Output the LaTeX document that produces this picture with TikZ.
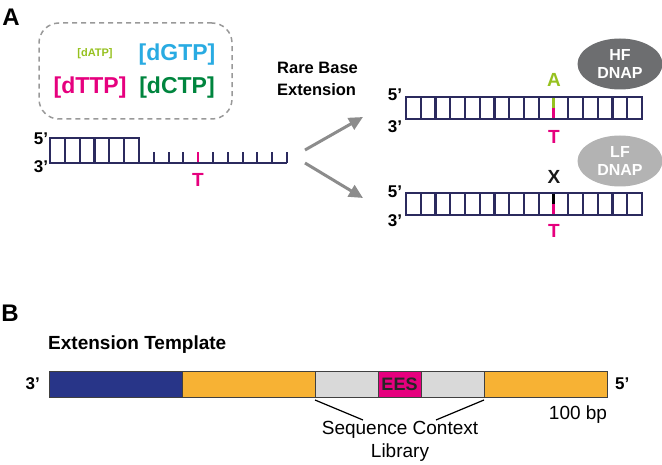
\documentclass[tikz,border=0pt]{standalone}
\usepackage{fontspec}
\setmainfont{Liberation Sans}
\usetikzlibrary{positioning,shapes.geometric,arrows.meta}

\definecolor{navy}{RGB}{43,42,94}
\definecolor{tmag}{RGB}{230,0,126}
\definecolor{alime}{RGB}{150,193,31}
\definecolor{gsky}{RGB}{41,171,226}
\definecolor{cgreen}{RGB}{0,133,62}
\definecolor{hfgray}{RGB}{109,110,112}
\definecolor{lfgray}{RGB}{179,179,179}
\definecolor{arrgray}{RGB}{140,140,140}
\definecolor{barblue}{RGB}{40,53,136}
\definecolor{barorange}{RGB}{247,178,52}
\definecolor{barlight}{RGB}{217,217,217}

\newcommand{\fsz}[2]{\fontsize{#1}{#2}\selectfont}

\tikzset{
  lbl/.style={inner sep=0pt, font=\bfseries\fsz{17}{17}},
  base/.style={inner sep=0pt, font=\bfseries\fsz{19}{19}},
  dntp/.style={inner sep=0pt, font=\bfseries\fsz{23}{23}},
  dnap/.style={ellipse, minimum width=85pt, minimum height=51pt, inner sep=0pt,
    text=white, align=center, font=\bfseries\fsz{16}{18}},
  strand/.style={navy, line width=2.1pt},
  seg/.style={draw=black!75, line width=0.8pt, minimum height=26pt, inner sep=0pt, outer sep=0pt},
  fork/.style={arrgray, line width=3pt, -{Triangle[length=14pt,width=13pt]}},
}

\begin{document}
\begin{tikzpicture}[x=1pt,y=-1pt]
\useasboundingbox (0,0) rectangle (662,465);

\node[inner sep=0pt, font=\bfseries\fsz{24}{24}] (panA) at (11,17) {A};
\node[inner sep=0pt, font=\bfseries\fsz{24}{24}] (panB) at (10,313) {B};

% dNTP pool
\node[draw=black!40, line width=1.5pt, dash pattern=on 5pt off 4pt, rounded corners=20pt,
  minimum width=193pt, minimum height=96pt] (pool) at (135.5,71) {};
\node[inner sep=0pt, font=\bfseries\fsz{11}{11}, text=alime] (datp) at (95,54) {[dATP]};
\node[dntp, text=gsky] (dgtp) at (177,55) {[dGTP]};
\node[dntp, text=tmag] (dttp) at (90,88) {[dTTP]};
\node[dntp, text=cgreen] (dctp) at (177,88) {[dCTP]};

% primer/template
\draw[strand] (139,163) -- (287,163);
\draw[strand] (50,138) rectangle (139,163);
\foreach \i in {1,...,5} \draw[strand] (50+14.83*\i,138) -- (50+14.83*\i,163);
\foreach \i in {1,2,3,5,6,7,8,9,10} \draw[strand] (139+14.8*\i,163) -- ++(0,-11);
\draw[tmag, line width=2.1pt] (198.2,162) -- (198.2,152);
\node[lbl] (p5) at (41,139) {5’};
\node[lbl] (p3) at (41,167) {3’};
\node[base, text=tmag] (tL) at (198,180) {T};

\node[inner sep=0pt, align=left, font=\bfseries\fsz{16.5}{22}, anchor=west] (rbe) at (277,79) {Rare Base\\Extension};

\coordinate (fkU) at (305,150);
\coordinate (fkD) at (305,163);
\coordinate (hiU) at (363,117);
\coordinate (hiD) at (363,198);
\draw[fork] (fkU) -- (hiU);
\draw[fork] (fkD) -- (hiD);

% extended products
\foreach \y/\pcol in {97/alime, 193/black}{
  \draw[strand] (406,\y) rectangle (642,\y+22);
  \foreach \i in {1,...,9,11,12,13,14,15} \draw[strand] (406+14.75*\i,\y) -- (406+14.75*\i,\y+22);
  \draw[\pcol, line width=2.1pt] (553.5,\y+1) -- (553.5,\y+11);
  \draw[tmag, line width=2.1pt] (553.5,\y+11) -- (553.5,\y+21);
}
\node[lbl] (h5) at (395,95) {5’};
\node[lbl] (h3) at (395,127) {3’};
\node[lbl] (l5) at (395,192) {5’};
\node[lbl] (l3) at (395,221) {3’};
\node[base, text=alime] (baseA) at (554,80) {A};
\node[base, text=tmag] (tH) at (554,137) {T};
\node[base, text=black!90] (baseX) at (554,177) {X};
\node[base, text=tmag] (tLo) at (554,231) {T};

\node[dnap, fill=hfgray] (hf) at (620,64) {HF\\DNAP};
\node[dnap, fill=lfgray] (lf) at (620,161) {LF\\DNAP};

% panel B
\node[base, anchor=west] (ext) at (48,345) {Extension Template};
\node[seg, fill=barblue, minimum width=133pt, anchor=west] (tb1) at (49,384) {};
\node[seg, fill=barorange, minimum width=133pt, right=0pt of tb1] (tb2) {};
\node[seg, fill=barlight, minimum width=63pt, right=0pt of tb2] (tb3) {};
\node[seg, fill=tmag, minimum width=43pt, right=0pt of tb3, font=\bfseries\fsz{18}{18}, text=black!85] (ees) {EES};
\node[seg, fill=barlight, minimum width=63pt, right=0pt of ees] (tb5) {};
\node[seg, fill=barorange, minimum width=123pt, right=0pt of tb5] (tb6) {};
\node[lbl, left=9pt of tb1] (b3) {3’};
\node[lbl, right=8pt of tb6] (b5) {5’};
\node[inner sep=0pt, font=\fsz{19}{19}] (bp) at (578,415) {100 bp};

\node[inner sep=0pt, align=center, font=\fsz{19}{23}] (lib) at (400,441) {Sequence Context\\Library};
\coordinate (libL) at (363,420);
\coordinate (libR) at (436,420);
\draw[line width=1.2pt] ([yshift=-3pt]tb3.south west) -- (libL);
\draw[line width=1.2pt] ([yshift=-3pt]tb5.south east) -- (libR);
\end{tikzpicture}
\end{document}
